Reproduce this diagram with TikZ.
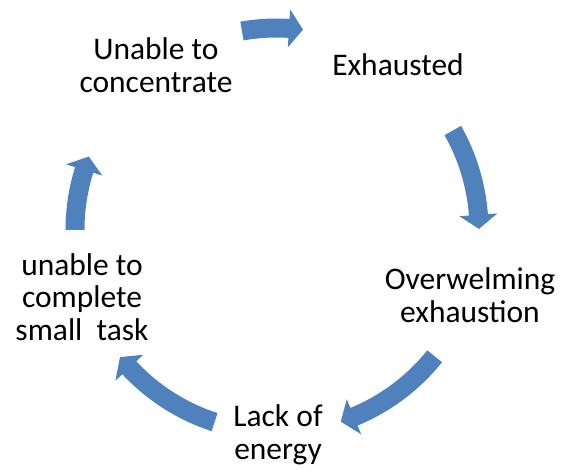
\documentclass[tikz,border=0pt]{standalone}
\usepackage{fontspec}
\setmainfont{Carlito}
\usetikzlibrary{positioning}
\definecolor{cyblue}{HTML}{4F81BD}
\tikzset{
  every picture/.style={x=0.75pt, y=0.75pt},
  phase/.style={align=center, inner sep=0pt, font=\fontsize{23.6}{24.6}\selectfont},
  blockarrow/.style={fill=cyblue, draw=none},
}
\begin{document}
\begin{tikzpicture}
  \useasboundingbox (0,0) rectangle (561,470);
  \coordinate (c) at (277,240);
  % phases round the cycle
  \node[phase] (conc) at (156,405) {Unable to\\concentrate};
  \node[phase] (exh)  at (398,405) {Exhausted};
  \node[phase] (over) at (470,175) {Overwelming\\exhaustion};
  \node[phase] (lack) at (278,35)  {Lack of\\energy};
  \node[phase] (task) at (82,173)  {unable to\\complete\\small\ \ task};
  % curved block arrows, clockwise
  \def\R{202}
  \begin{scope}[shift={(c)}]
    \foreach \a/\b in {100/82.6, 29.5/0.3, -38.7/-71.6, -108/-141, 180/158.7} {
      \pgfmathsetmacro{\h}{\b+4}
      \fill[blockarrow] (\a:\R+9.5) arc[start angle=\a, end angle=\h, radius=\R+9.5]
        -- (\h:\R+19) -- (\b:\R) -- (\h:\R-19) -- (\h:\R-9.5)
        arc[start angle=\h, end angle=\a, radius=\R-9.5] -- cycle;
    }
  \end{scope}
\end{tikzpicture}
\end{document}
